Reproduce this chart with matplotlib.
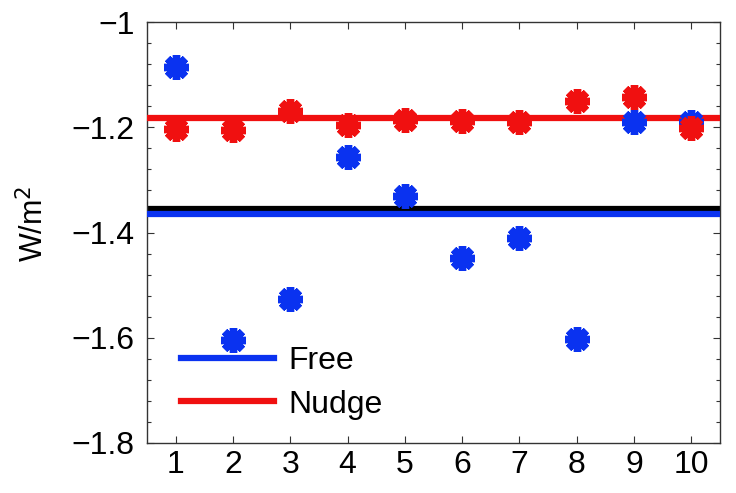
import numpy as np
import matplotlib
matplotlib.use("Agg")
import matplotlib.pyplot as plt
from matplotlib.ticker import MultipleLocator

plt.rcParams['font.family'] = ['Liberation Sans', 'DejaVu Sans']

members = [1, 2, 3, 4, 5, 6, 7, 8, 9, 10]
free_vals = [-1.086, -1.605, -1.526, -1.256, -1.330, -1.448, -1.410, -1.603, -1.190, -1.190]
nudge_vals = [-1.203, -1.205, -1.170, -1.195, -1.186, -1.188, -1.190, -1.151, -1.142, -1.201]
reference_val = -1.355
x_ticks = [1, 2, 3, 4, 5, 6, 7, 8, 9, 10]
y_ticks = [-1.8, -1.6, -1.4, -1.2, -1.0]
y_tick_labels = ['\u22121.8', '\u22121.6', '\u22121.4', '\u22121.2', '\u22121']

blue = '#0a32f0'
red = '#f01010'

fig = plt.figure(figsize=(7.36, 4.93), dpi=100)
ax = fig.add_axes([147 / 736, 50 / 493, 573 / 736, 421 / 493])

free_mean = np.mean(free_vals)
nudge_mean = np.mean(nudge_vals)

ax.axhline(reference_val, color='black', lw=4.5, zorder=2)
ax.axhline(free_mean, color=blue, lw=4.5, zorder=3, label='Free')
ax.axhline(nudge_mean, color=red, lw=4.5, zorder=3, label='Nudge')

star = (8, 2, 0)
ax.plot(members, free_vals, ls='none', marker=star, ms=18, mew=5.3,
        color=blue, zorder=4)
ax.plot(members, nudge_vals, ls='none', marker=star, ms=18, mew=5.3,
        color=red, zorder=5)

ax.set_xlim(0.5, 10.5)
ax.set_ylim(-1.8, -1.0)
ax.set_xticks(x_ticks)
ax.set_yticks(y_ticks)
ax.set_yticklabels(y_tick_labels)
ax.yaxis.set_minor_locator(MultipleLocator(0.04))
ax.tick_params(axis='both', which='both', direction='in', top=True, right=True,
               labelsize=23, colors='#333333', labelcolor='black')
ax.tick_params(axis='both', which='major', length=5, width=0.8)
ax.tick_params(axis='x', which='major', pad=5)
ax.tick_params(axis='y', which='major', pad=9)
ax.tick_params(axis='y', which='minor', length=3, width=0.8)
for sp in ax.spines.values():
    sp.set_color('#333333')
    sp.set_linewidth(1.0)

ax.set_ylabel('W/m$^2$', fontsize=22)
ax.yaxis.set_label_coords((50 - 147) / 573, 0.52)

ax.legend(loc='center left', frameon=False, fontsize=23, handlelength=2.9,
          handletextpad=0.45, bbox_to_anchor=(0.009, 0.143), labelspacing=0.42)

fig.savefig('out.png', dpi=100)
